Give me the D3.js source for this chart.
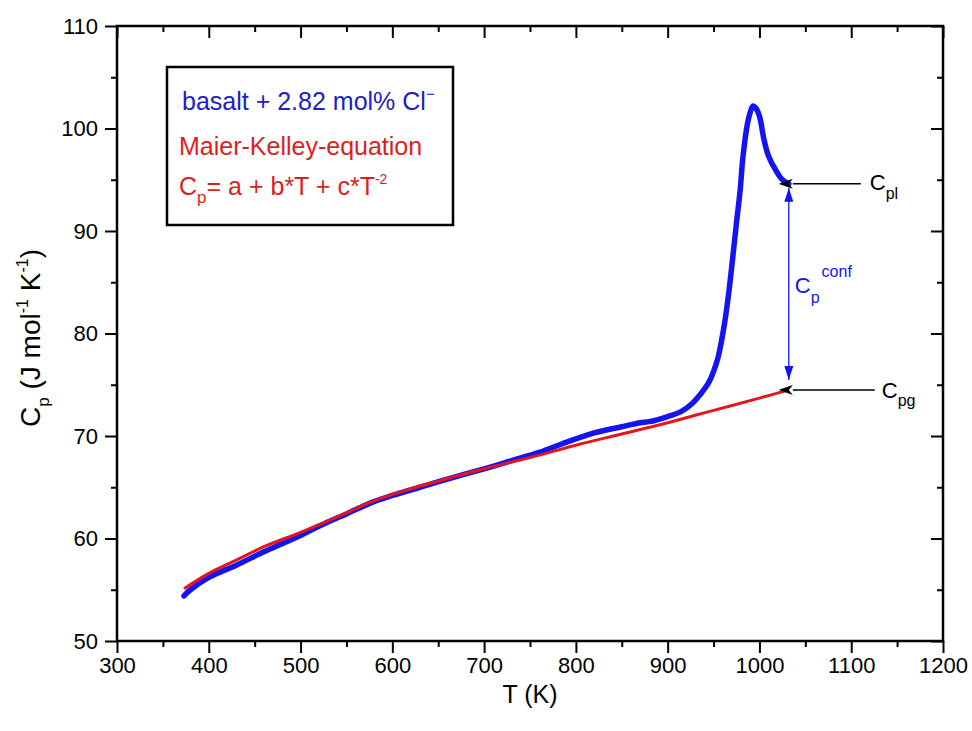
<!DOCTYPE html>
<html>
<head>
<meta charset="utf-8">
<script src="https://cdn.jsdelivr.net/npm/d3@7"></script>
<style>
  body { margin: 0; background: #fff; }
  text { font-family: "Liberation Sans", Arial, sans-serif; }
</style>
</head>
<body>
<svg id="chart" width="972" height="731"></svg>
<script>
const T_MEAS = [373, 380, 400, 430, 460, 480, 500, 520, 550, 580, 600, 630, 660, 700, 730, 760, 790, 820, 850, 870, 880, 900, 915, 927, 935, 944, 950, 955, 962, 967, 971, 975, 979, 982, 987, 990, 993, 996, 1000, 1005, 1010, 1018, 1025, 1032];
const CP_MEAS = [54.4, 55.0, 56.2, 57.4, 58.7, 59.5, 60.3, 61.2, 62.4, 63.6, 64.2, 65.0, 65.8, 66.8, 67.6, 68.4, 69.4, 70.3, 70.9, 71.3, 71.4, 71.9, 72.4, 73.2, 74.0, 75.1, 76.3, 77.7, 81.0, 84.3, 87.5, 90.8, 94.0, 97.2, 100.5, 101.6, 102.2, 102.0, 101.2, 98.9, 97.3, 95.9, 95.0, 94.6];

// Maier-Kelley fit (red)
const T_FIT = [373, 400, 430, 460, 500, 550, 575, 600, 650, 700, 750, 800, 850, 900, 950, 1000, 1032];
const CP_FIT = [55.1, 56.6, 57.9, 59.2, 60.6, 62.5, 63.5, 64.3, 65.6, 66.8, 67.9, 69.1, 70.2, 71.3, 72.5, 73.7, 74.5];

const X_TICKS = [300, 400, 500, 600, 700, 800, 900, 1000, 1100, 1200];
const X_MINOR = [350, 450, 550, 650, 750, 850, 950, 1050, 1150];
const Y_TICKS = [50, 60, 70, 80, 90, 100, 110];
const Y_MINOR = [55, 65, 75, 85, 95, 105];

// annotation anchors: end of liquid and glass curves
const CPL_POINT = [1032, 94.6];
const CPG_POINT = [1032, 74.5];

const FONT = "'Liberation Sans', Arial, sans-serif";
const BLUE = "#1414f0";
const RED = "#e8141c";

const svg = d3.select("#chart");
const plotLeft = 117, plotRight = 943, plotTop = 26, plotBottom = 641;

const x = d3.scaleLinear().domain([300, 1200]).range([plotLeft, plotRight]);
const y = d3.scaleLinear().domain([50, 110]).range([plotBottom, plotTop]);

const defs = svg.append("defs");
defs.append("marker")
  .attr("id", "blackHead")
  .attr("viewBox", "0 -6 14 12")
  .attr("refX", 0).attr("refY", 0)
  .attr("markerWidth", 14).attr("markerHeight", 12)
  .attr("markerUnits", "userSpaceOnUse")
  .attr("orient", "auto-start-reverse")
  .append("path")
  .attr("d", "M14,0 L0,-5 L4,0 L0,5 Z")
  .attr("fill", "#000");
defs.append("marker")
  .attr("id", "blueHead")
  .attr("viewBox", "0 -5 14 10")
  .attr("refX", 14).attr("refY", 0)
  .attr("markerWidth", 14).attr("markerHeight", 10)
  .attr("markerUnits", "userSpaceOnUse")
  .attr("orient", "auto-start-reverse")
  .append("path")
  .attr("d", "M0,-4.5 L14,0 L0,4.5 Z")
  .attr("fill", BLUE);

// axes
function styleAxis(g) {
  g.select(".domain").remove();
  g.selectAll("line").attr("stroke", "#000").attr("stroke-width", 2);
  g.selectAll("text").attr("font-family", FONT).attr("font-size", 22).attr("fill", "#000");
}

svg.append("g")
  .attr("transform", `translate(0,${plotBottom})`)
  .call(d3.axisBottom(x).tickValues(X_MINOR).tickSize(6).tickFormat(""))
  .call(styleAxis);
svg.append("g")
  .attr("transform", `translate(0,${plotBottom})`)
  .call(d3.axisBottom(x).tickValues(X_TICKS).tickSize(12).tickPadding(4).tickFormat(d3.format("d")))
  .call(styleAxis);

svg.append("g")
  .attr("transform", `translate(${plotLeft},0)`)
  .call(d3.axisLeft(y).tickValues(Y_MINOR).tickSize(6).tickFormat(""))
  .call(styleAxis);
svg.append("g")
  .attr("transform", `translate(${plotLeft},0)`)
  .call(d3.axisLeft(y).tickValues(Y_TICKS).tickSize(12).tickPadding(7).tickFormat(d3.format("d")))
  .call(styleAxis);

svg.append("g")
  .attr("transform", `translate(0,${plotTop})`)
  .call(d3.axisTop(x).tickValues(X_MINOR).tickSize(-6).tickFormat(""))
  .call(styleAxis);
svg.append("g")
  .attr("transform", `translate(0,${plotTop})`)
  .call(d3.axisTop(x).tickValues(X_TICKS).tickSize(-12).tickFormat(""))
  .call(styleAxis);

svg.append("g")
  .attr("transform", `translate(${plotRight},0)`)
  .call(d3.axisRight(y).tickValues(Y_MINOR).tickSize(-6).tickFormat(""))
  .call(styleAxis);
svg.append("g")
  .attr("transform", `translate(${plotRight},0)`)
  .call(d3.axisRight(y).tickValues(Y_TICKS).tickSize(-12).tickFormat(""))
  .call(styleAxis);

svg.append("rect")
  .attr("x", plotLeft).attr("y", plotTop)
  .attr("width", plotRight - plotLeft).attr("height", plotBottom - plotTop)
  .attr("fill", "none")
  .attr("stroke", "#000")
  .attr("stroke-width", 2.5);

// curves
const line = d3.line()
  .x((d) => x(d[0]))
  .y((d) => y(d[1]))
  .curve(d3.curveCatmullRom.alpha(0.5));

svg.append("path")
  .datum(d3.zip(T_MEAS, CP_MEAS))
  .attr("d", line)
  .attr("fill", "none")
  .attr("stroke", BLUE)
  .attr("stroke-width", 5.5)
  .attr("stroke-linecap", "round")
  .attr("stroke-linejoin", "round");

svg.append("path")
  .datum(d3.zip(T_FIT, CP_FIT))
  .attr("d", line)
  .attr("fill", "none")
  .attr("stroke", RED)
  .attr("stroke-width", 3);

// annotations
const ax = x(CPL_POINT[0]);
svg.append("line")
  .attr("x1", ax).attr("x2", ax)
  .attr("y1", y(CPL_POINT[1]) + 4)
  .attr("y2", y(CPG_POINT[1]) - 10)
  .attr("stroke", BLUE)
  .attr("stroke-width", 1.3)
  .attr("marker-start", "url(#blueHead)")
  .attr("marker-end", "url(#blueHead)");

svg.append("line")
  .attr("x1", ax + 4).attr("x2", ax + 72)
  .attr("y1", y(CPL_POINT[1])).attr("y2", y(CPL_POINT[1]))
  .attr("stroke", "#000").attr("stroke-width", 1.5)
  .attr("marker-start", "url(#blackHead)");

svg.append("line")
  .attr("x1", ax + 4).attr("x2", ax + 86)
  .attr("y1", y(CPG_POINT[1])).attr("y2", y(CPG_POINT[1]))
  .attr("stroke", "#000").attr("stroke-width", 1.5)
  .attr("marker-start", "url(#blackHead)");

function subLabel(xp, yp, main, sub, color, size, subSize, shift) {
  const t = svg.append("text")
    .attr("x", xp).attr("y", yp)
    .attr("font-family", FONT)
    .attr("font-size", size)
    .attr("fill", color);
  t.append("tspan").text(main);
  t.append("tspan").attr("font-size", subSize).attr("dy", shift).text(sub);
  return t;
}

subLabel(ax + 81, y(CPL_POINT[1]) + 6, "C", "pl", "#000", 22, 16, 9);
subLabel(ax + 93, y(CPG_POINT[1]) + 8, "C", "pg", "#000", 22, 16, 8);

const conf = svg.append("text")
  .attr("x", ax + 6).attr("y", 293)
  .attr("font-family", FONT).attr("font-size", 22).attr("fill", BLUE);
conf.append("tspan").text("C");
conf.append("tspan").attr("font-size", 16).attr("dy", 10).text("p");
conf.append("tspan").attr("font-size", 16).attr("dx", 2).attr("dy", -26).text("conf");

// legend box
svg.append("rect")
  .attr("x", 167).attr("y", 67)
  .attr("width", 286).attr("height", 158)
  .attr("fill", "#fff")
  .attr("stroke", "#000")
  .attr("stroke-width", 2.5);

const l1 = svg.append("text")
  .attr("x", 182).attr("y", 110)
  .attr("font-family", FONT).attr("font-size", 25).attr("fill", "#2020c8");
l1.append("tspan").text("basalt + 2.82 mol% Cl");
l1.append("tspan").attr("font-size", 15).attr("dy", -11).text("\u2212");

svg.append("text")
  .attr("x", 179).attr("y", 155)
  .attr("font-family", FONT).attr("font-size", 25).attr("fill", "#dc1e1e")
  .text("Maier-Kelley-equation");

const l3 = svg.append("text")
  .attr("x", 179).attr("y", 195)
  .attr("font-family", FONT).attr("font-size", 25).attr("fill", "#dc1e1e");
l3.append("tspan").text("C");
l3.append("tspan").attr("font-size", 17).attr("dy", 8).text("p");
l3.append("tspan").attr("dy", -8).text("= a + b*T + c*T");
l3.append("tspan").attr("font-size", 14).attr("dy", -11).text("-2");

// axis titles
svg.append("text")
  .attr("x", (plotLeft + plotRight) / 2).attr("y", 703)
  .attr("text-anchor", "middle")
  .attr("font-family", FONT).attr("font-size", 25)
  .text("T (K)");

const yt = svg.append("text")
  .attr("transform", "translate(40,338) rotate(-90)")
  .attr("text-anchor", "middle")
  .attr("font-family", FONT).attr("font-size", 28);
yt.append("tspan").text("C");
yt.append("tspan").attr("font-size", 17).attr("dy", 9).text("p");
yt.append("tspan").attr("dy", -9).text(" (J mol");
yt.append("tspan").attr("font-size", 16).attr("dy", -12).text("-1");
yt.append("tspan").attr("dy", 12).text(" K");
yt.append("tspan").attr("font-size", 16).attr("dy", -12).text("-1");
yt.append("tspan").attr("dy", 12).text(")");
</script>
</body>
</html>
